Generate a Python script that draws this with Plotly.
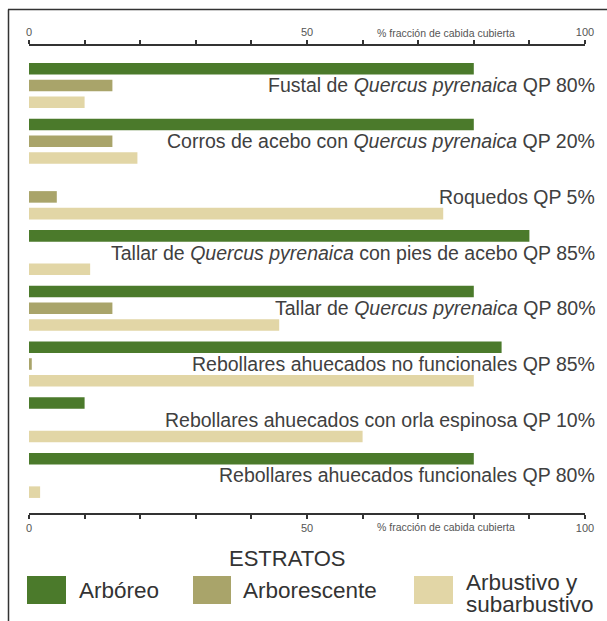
import plotly.graph_objects as go

categories = [
    "Fustal de <i>Quercus pyrenaica</i> QP 80%",
    "Corros de acebo con <i>Quercus pyrenaica</i> QP 20%",
    "Roquedos QP 5%",
    "Tallar de <i>Quercus pyrenaica</i> con pies de acebo QP 85%",
    "Tallar de <i>Quercus pyrenaica</i> QP 80%",
    "Rebollares ahuecados no funcionales QP 85%",
    "Rebollares ahuecados con orla espinosa QP 10%",
    "Rebollares ahuecados funcionales QP 80%",
]
arboreo = [80, 80, 0, 90, 80, 85, 10, 80]
arborescente = [15, 15, 5, 0, 15, 0.5, 0, 0]
arbustivo = [10, 19.5, 74.5, 11, 45, 80, 60, 2]
series_names = ["Arbóreo", "Arborescente", "Arbustivo y subarbustivo"]
colors = ["#4b7a2b", "#a9a46a", "#e2d6a6"]
tick_vals = list(range(0, 101, 10))
tick_text = ["0", "", "", "", "", "50", "", "", "", "", "100"]
axis_title = "% fracción de cabida cubierta"
legend_title = "ESTRATOS"

W, H = 607, 621
L, R, T, B = 29, 585, 46, 513


def px(x):
    return (x - L) / (R - L)


def py(y):
    return (B - y) / (B - T)


fig = go.Figure()
for name, vals, col in zip(series_names, [arboreo, arborescente, arbustivo], colors):
    fig.add_trace(go.Bar(
        x=vals, y=categories, orientation="h", name=name,
        marker=dict(color=col, line=dict(width=0)),
        hoverinfo="skip", showlegend=False,
    ))
fig.add_trace(go.Scatter(
    x=[0], y=[categories[0]], xaxis="x2", mode="markers",
    marker=dict(opacity=0), hoverinfo="skip", showlegend=False,
))

axis_common = dict(
    range=[0, 100], tickmode="array", tickvals=tick_vals, ticktext=tick_text,
    ticks="outside", ticklen=4, tickwidth=1.5, tickcolor="#333",
    showline=True, linewidth=2, linecolor="#333", showgrid=False,
    zeroline=False, tickfont=dict(family="Liberation Sans, Arial", size=11, color="#555"),
    fixedrange=True,
)

annotations = []
for c in categories:
    annotations.append(dict(
        x=1, xref="paper", xshift=12, xanchor="right",
        y=c, yref="y", yanchor="middle", text=c, showarrow=False,
        font=dict(family="Liberation Sans, Arial", size=19.5, color="#404040"),
    ))
for ypos, ysh in [(1, 13), (0, -14)]:
    annotations.append(dict(
        x=75, xref="x", y=ypos, yref="paper", yshift=ysh, yanchor="middle",
        text=axis_title, showarrow=False,
        font=dict(family="Liberation Sans, Arial", size=10.5, color="#555"),
    ))
annotations.append(dict(
    x=px(287), xref="paper", y=py(558), yref="paper", xanchor="center", yanchor="middle",
    text=legend_title, showarrow=False,
    font=dict(family="Liberation Sans, Arial", size=22, color="#333"),
))
leg_font = dict(family="Liberation Sans, Arial", size=22.5, color="#333")
annotations += [
    dict(x=px(77), xref="paper", y=py(590), yref="paper", xanchor="left", yanchor="middle",
         text=series_names[0], showarrow=False, font=leg_font),
    dict(x=px(241), xref="paper", y=py(590), yref="paper", xanchor="left", yanchor="middle",
         text=series_names[1], showarrow=False, font=leg_font),
    dict(x=px(464), xref="paper", y=py(582), yref="paper", xanchor="left", yanchor="middle",
         text="Arbustivo y", showarrow=False, font=leg_font),
    dict(x=px(464), xref="paper", y=py(604), yref="paper", xanchor="left", yanchor="middle",
         text="subarbustivo", showarrow=False, font=leg_font),
]

shapes = [
    dict(type="line", xref="paper", yref="paper", x0=px(8), x1=px(607), y0=py(9.5), y1=py(9.5),
         line=dict(color="#333", width=1.5)),
    dict(type="line", xref="paper", yref="paper", x0=px(8.5), x1=px(8.5), y0=py(9.5), y1=py(621),
         line=dict(color="#333", width=1.5)),
]
for (x0, x1), col in zip([(27, 66), (193, 231), (414, 453)], colors):
    shapes.append(dict(type="rect", xref="paper", yref="paper", x0=px(x0), x1=px(x1),
                       y0=py(576), y1=py(604), fillcolor=col, line=dict(width=0)))

fig.update_layout(
    width=W, height=H,
    margin=dict(l=L, r=W - R, t=T, b=H - B, pad=0),
    paper_bgcolor="white", plot_bgcolor="white",
    barmode="group", bargap=0.098, bargroupgap=0.31,
    xaxis=dict(side="bottom", **axis_common),
    xaxis2=dict(side="top", overlaying="x", matches="x", anchor="y", **axis_common),
    yaxis=dict(range=[7.675, -0.709], showticklabels=False, showline=False,
               showgrid=False, zeroline=False, ticks="", fixedrange=True),
    annotations=annotations, shapes=shapes,
    showlegend=False,
)

fig.write_html(
    "out.html",
    config={"displayModeBar": False},
    post_script="document.body.style.margin='0px';document.body.style.overflow='hidden';",
)
